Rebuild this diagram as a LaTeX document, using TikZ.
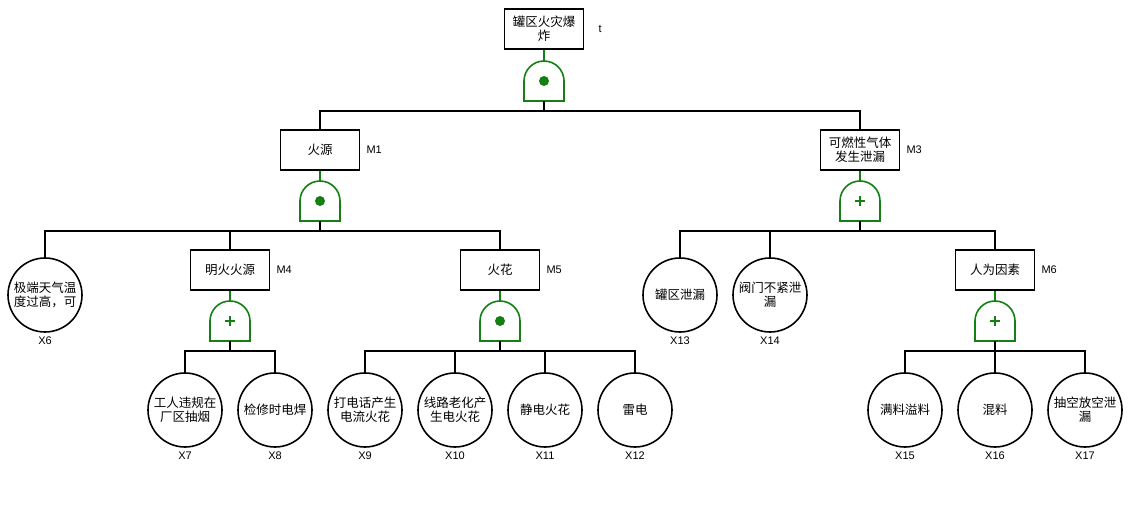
\documentclass[tikz,border=0pt]{standalone}
\usepackage{fontspec}
\setmainfont{Liberation Sans}
\newfontfamily\cjk{Noto Sans CJK SC}
\definecolor{gatecol}{RGB}{20,128,20}
\newcommand{\gateshape}[1]{\draw[gateline] (#1.south west) -- ([yshift=20pt]#1.south west) arc[start angle=180,end angle=0,radius=20pt] -- (#1.south east) -- cycle;}
\newcommand{\anddot}[1]{\fill[gatecol] (#1.center) circle (5pt);}
\newcommand{\orplus}[1]{\draw[gatecol,line width=2pt] ([xshift=-5pt]#1.center) -- ([xshift=5pt]#1.center) ([yshift=-5pt]#1.center) -- ([yshift=5pt]#1.center);}
\begin{document}
\begin{tikzpicture}[x=1pt,y=1pt,
  evbox/.style={draw,line width=1.6pt,minimum width=79pt,minimum height=40pt,inner sep=1pt,align=center,font=\cjk\fontsize{12.5}{14}\selectfont},
  basic/.style={draw,circle,line width=1.6pt,minimum size=74pt,inner sep=0pt,align=center,font=\cjk\fontsize{12.5}{14}\selectfont},
  gate/.style={minimum width=40pt,minimum height=40pt,inner sep=0pt,outer sep=0pt},
  gateline/.style={draw=gatecol,line width=1.6pt},
  conn/.style={draw=black,line width=1.6pt},
  lbl/.style={font=\fontsize{11}{13}\selectfont,inner sep=0pt}]
\useasboundingbox[fill=white] (0,0) rectangle (1135,-510);

% top event
\node[evbox] (T) at (544,-29) {罐区火灾爆\\炸};
\node[lbl,anchor=west] (Tl) at ([xshift=14pt]T.east) {t};
\node[gate] (G0) at (544,-81) {};
\gateshape{G0}\anddot{G0}
\draw[gateline] (T.south) -- (G0.north);

% M1
\node[evbox] (M1) at (320,-150) {火源};
\node[lbl,anchor=west] (M1l) at ([xshift=6pt]M1.east) {M1};
\node[gate] (G1) at (320,-201) {};
\gateshape{G1}\anddot{G1}
\draw[gateline] (M1.south) -- (G1.north);

% M3
\node[evbox] (M3) at (860,-150) {可燃性气体\\发生泄漏};
\node[lbl,anchor=west] (M3l) at ([xshift=6pt]M3.east) {M3};
\node[gate] (G3) at (860,-201) {};
\gateshape{G3}\orplus{G3}
\draw[gateline] (M3.south) -- (G3.north);

% second level
\node[basic] (X6) at (45,-295) {极端天气温\\度过高，可};
\node[lbl,anchor=north] (X6l) at ([yshift=-4pt]X6.south) {X6};
\node[evbox] (M4) at (230,-270) {明火火源};
\node[lbl,anchor=west] (M4l) at ([xshift=6pt]M4.east) {M4};
\node[gate] (G4) at (230,-321) {};
\gateshape{G4}\orplus{G4}
\draw[gateline] (M4.south) -- (G4.north);
\node[evbox] (M5) at (500,-270) {火花};
\node[lbl,anchor=west] (M5l) at ([xshift=6pt]M5.east) {M5};
\node[gate] (G5) at (500,-321) {};
\gateshape{G5}\anddot{G5}
\draw[gateline] (M5.south) -- (G5.north);

\node[basic] (X13) at (680,-295) {罐区泄漏};
\node[lbl,anchor=north] (X13l) at ([yshift=-4pt]X13.south) {X13};
\node[basic] (X14) at (770,-295) {阀门不紧泄\\漏};
\node[lbl,anchor=north] (X14l) at ([yshift=-4pt]X14.south) {X14};
\node[evbox] (M6) at (995,-270) {人为因素};
\node[lbl,anchor=west] (M6l) at ([xshift=6pt]M6.east) {M6};
\node[gate] (G6) at (995,-321) {};
\gateshape{G6}\orplus{G6}
\draw[gateline] (M6.south) -- (G6.north);

% third level
\node[basic] (X7) at (185,-410) {工人违规在\\厂区抽烟};
\node[lbl,anchor=north] (X7l) at ([yshift=-4pt]X7.south) {X7};
\node[basic] (X8) at (275,-410) {检修时电焊};
\node[lbl,anchor=north] (X8l) at ([yshift=-4pt]X8.south) {X8};
\node[basic] (X9) at (365,-410) {打电话产生\\电流火花};
\node[lbl,anchor=north] (X9l) at ([yshift=-4pt]X9.south) {X9};
\node[basic] (X10) at (455,-410) {线路老化产\\生电火花};
\node[lbl,anchor=north] (X10l) at ([yshift=-4pt]X10.south) {X10};
\node[basic] (X11) at (545,-410) {静电火花};
\node[lbl,anchor=north] (X11l) at ([yshift=-4pt]X11.south) {X11};
\node[basic] (X12) at (635,-410) {雷电};
\node[lbl,anchor=north] (X12l) at ([yshift=-4pt]X12.south) {X12};
\node[basic] (X15) at (905,-410) {满料溢料};
\node[lbl,anchor=north] (X15l) at ([yshift=-4pt]X15.south) {X15};
\node[basic] (X16) at (995,-410) {混料};
\node[lbl,anchor=north] (X16l) at ([yshift=-4pt]X16.south) {X16};
\node[basic] (X17) at (1085,-410) {抽空放空泄\\漏};
\node[lbl,anchor=north] (X17l) at ([yshift=-4pt]X17.south) {X17};

% connectors
\foreach \c in {M1,M3} \draw[conn] (G0.south) -- ++(0,-10) -| (\c.north);
\foreach \c in {X6,M4,M5} \draw[conn] (G1.south) -- ++(0,-10) -| (\c.north);
\foreach \c in {X13,X14,M6} \draw[conn] (G3.south) -- ++(0,-10) -| (\c.north);
\foreach \c in {X7,X8} \draw[conn] (G4.south) -- ++(0,-10) -| (\c.north);
\foreach \c in {X9,X10,X11,X12} \draw[conn] (G5.south) -- ++(0,-10) -| (\c.north);
\foreach \c in {X15,X16,X17} \draw[conn] (G6.south) -- ++(0,-10) -| (\c.north);
\end{tikzpicture}
\end{document}
